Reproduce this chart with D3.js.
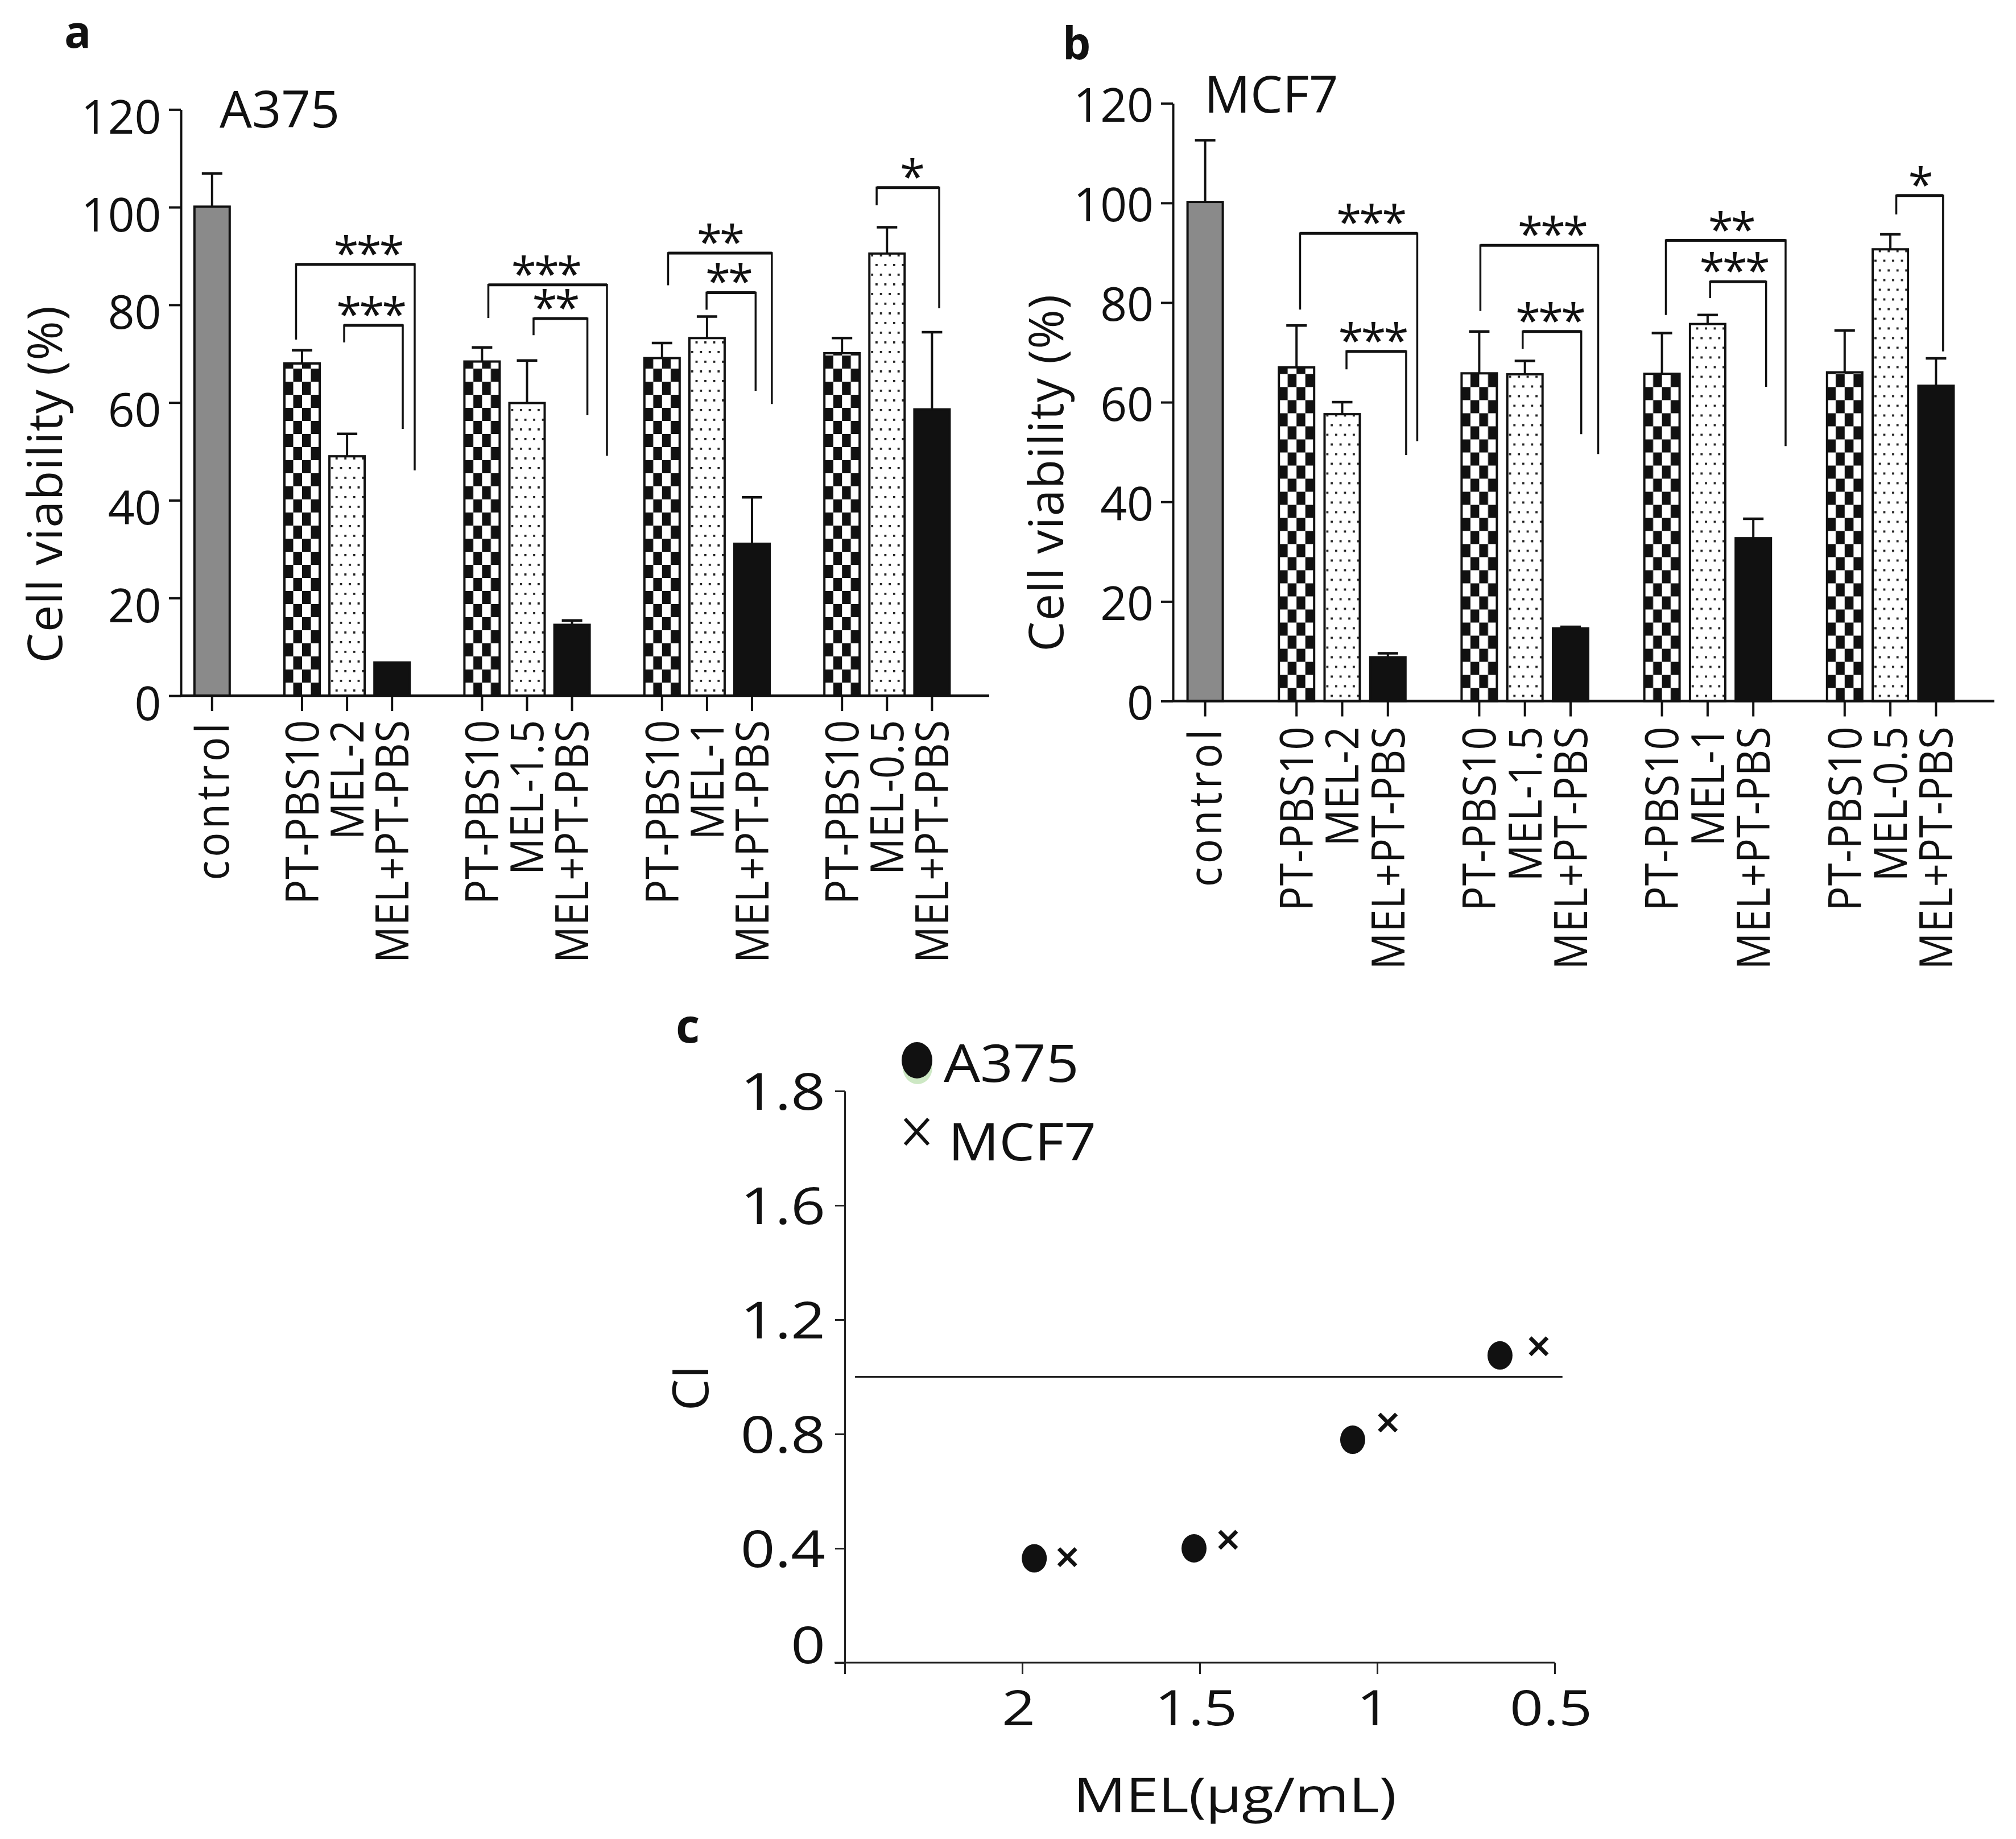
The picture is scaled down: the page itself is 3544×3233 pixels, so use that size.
<!DOCTYPE html>
<html><head><meta charset="utf-8">
<script src="https://cdn.jsdelivr.net/npm/d3@7"></script>
<style>
body{margin:0;background:#fff}
svg{display:block}
text{font-family:"Open Sans","Noto Sans","DejaVu Sans",sans-serif;fill:#111}
</style>
</head><body>
<svg id="chart" width="3544" height="3233"></svg>
<script>
// ---------------- DATA ----------------
const groupLabels = [
  ["control"],
  ["PT-PBS10","MEL-2","MEL+PT-PBS"],
  ["PT-PBS10","MEL-1.5","MEL+PT-PBS"],
  ["PT-PBS10","MEL-1","MEL+PT-PBS"],
  ["PT-PBS10","MEL-0.5","MEL+PT-PBS"]
];
const yTicksViability = [0,20,40,60,80,100,120];

const a375Values = [100.1, 68.0,49.0,6.8, 68.4,59.9,14.5, 69.1,73.2,31.1, 70.1,90.5,58.6];
const a375Errors = [6.8, 2.7,4.6,0, 2.9,8.7,0.9, 3.1,4.4,9.5, 3.1,5.4,15.8];
const mcf7Values = [100.2, 67.0,57.6,8.8, 65.8,65.6,14.6, 65.7,75.7,32.7, 66.0,90.7,63.3];
const mcf7Errors = [12.4, 8.4,2.4,0.8, 8.4,2.7,0.3, 8.2,1.8,3.9, 8.4,3.0,5.5];

// significance brackets: [left slot, right slot, top value, left end value, right end value, label, label slot]
const a375Brackets = [
  [1.867, 4.503, 88.3, 72.9, 46.1, "***", 3.46],
  [2.936, 4.238, 75.8, 72.3, 54.6, "***", 3.52],
  [6.140, 8.776, 84.1, 77.3, 49.1, "***", 7.41],
  [7.145, 8.341, 77.2, 73.8, 57.4, "**", 7.62],
  [10.135, 12.44, 90.6, 84.0, 59.7, "**", 11.28],
  [10.99, 12.08, 82.5, 79.0, 62.4, "**", 11.47],
  [14.77, 16.16, 104.0, 100.4, 79.3, "*", 15.54]
];
const mcf7Brackets = [
  [2.078, 4.643, 93.9, 78.6, 52.2, "***", 3.62],
  [3.094, 4.40, 70.2, 66.6, 49.4, "***", 3.66],
  [6.025, 8.604, 91.5, 78.3, 49.6, "***", 7.59],
  [6.951, 8.233, 74.2, 70.7, 53.6, "***", 7.54],
  [10.086, 12.707, 92.5, 77.5, 51.2, "**", 11.51],
  [11.055, 12.28, 84.2, 80.9, 63.1, "***", 11.57],
  [15.13, 16.155, 101.5, 97.7, 70.2, "*", 15.64]
];

// panel c
const doseTicks = [2.5, 2, 1.5, 1, 0.5];
const doseTickLabels = ["", "2", "1.5", "1", "0.5"];
const ciTickValues = [0, 0.4, 0.8, 1.2, 1.6, 2.0];
const ciTickLabels = ["0", "0.4", "0.8", "1.2", "1.6", "1.8"];
const a375Dose = [1.966, 1.516, 1.069, 0.654];
const a375CI   = [0.365, 0.400, 0.780, 1.075];
const mcf7Dose = [1.873, 1.420, 0.970, 0.545];
const mcf7CI   = [0.369, 0.430, 0.840, 1.107];
const ciRefLine = {ci: 1.0, from: 2.471, to: 0.478};

// ---------------- DRAW ----------------
const svg = d3.select("#chart");
const defs = svg.append("defs");
const INK = "#111";

const chk = defs.append("pattern").attr("id","checker").attr("patternUnits","userSpaceOnUse")
  .attr("width",31).attr("height",46);
chk.append("rect").attr("width",31).attr("height",46).attr("fill","#fff");
chk.append("rect").attr("x",0).attr("y",0).attr("width",15.5).attr("height",23).attr("fill",INK);
chk.append("rect").attr("x",15.5).attr("y",23).attr("width",15.5).attr("height",23).attr("fill",INK);

const dts = defs.append("pattern").attr("id","dots").attr("patternUnits","userSpaceOnUse")
  .attr("width",15.5).attr("height",34);
dts.append("rect").attr("width",15.5).attr("height",34).attr("fill","#fff");
dts.append("rect").attr("x",3).attr("y",6).attr("width",3.8).attr("height",3.8).attr("fill","#222");
dts.append("rect").attr("x",10.7).attr("y",23).attr("width",3.8).attr("height",3.8).attr("fill","#222");

const fills = {gray:"#8a8a8a", checker:"url(#checker)", dots:"url(#dots)", solid:INK};
const groupFill = ["checker","dots","solid"];

function barPanel(cfg, values, errors, brackets) {
  const g = svg.append("g");
  const keys = [], bars = [];
  groupLabels.forEach((grp, gi) => {
    if (gi > 0) keys.push("gap" + gi);
    grp.forEach((lab, li) => {
      const k = gi + "-" + li;
      keys.push(k);
      bars.push({key: k, label: lab, type: gi === 0 ? "gray" : groupFill[li]});
    });
  });
  bars.forEach((b, i) => { b.value = values[i]; b.err = errors[i]; });

  const pad = 1 - cfg.barW / cfg.slot;
  const x = d3.scaleBand().domain(keys)
    .range([cfg.c0 - cfg.slot/2, cfg.c0 + (keys.length - 0.5) * cfg.slot])
    .paddingInner(pad).paddingOuter(pad/2);
  const xi = d3.scaleLinear().domain([0, keys.length - 1])
    .range([cfg.c0, cfg.c0 + (keys.length - 1) * cfg.slot]);
  const y = d3.scaleLinear().domain([0, 120]).range([cfg.y0, cfg.y120]);

  // bars
  const bg = g.selectAll("g.bar").data(bars).join("g").attr("class","bar")
    .attr("transform", d => `translate(${x(d.key)},${cfg.y0})`);
  bg.append("rect")
    .attr("x", 0).attr("y", d => y(d.value) - cfg.y0)
    .attr("width", x.bandwidth()).attr("height", d => cfg.y0 - y(d.value))
    .attr("fill", d => fills[d.type]).attr("stroke", INK).attr("stroke-width", 4);

  // error bars
  const eb = g.selectAll("g.err").data(bars.filter(d => d.err > 0)).join("g").attr("class","err");
  eb.append("line")
    .attr("x1", d => x(d.key) + x.bandwidth()/2).attr("x2", d => x(d.key) + x.bandwidth()/2)
    .attr("y1", d => y(d.value)).attr("y2", d => y(d.value + d.err))
    .attr("stroke", INK).attr("stroke-width", 4);
  eb.append("line")
    .attr("x1", d => x(d.key) + x.bandwidth()/2 - 18).attr("x2", d => x(d.key) + x.bandwidth()/2 + 18)
    .attr("y1", d => y(d.value + d.err)).attr("y2", d => y(d.value + d.err))
    .attr("stroke", INK).attr("stroke-width", 4.5);

  // brackets
  const br = g.selectAll("g.brk").data(brackets).join("g").attr("class","brk");
  br.append("path")
    .attr("d", d => `M${xi(d[0])},${y(d[3])}V${y(d[2])}H${xi(d[1])}V${y(d[4])}`)
    .attr("fill","none").attr("stroke", INK).attr("stroke-width", 3.5);
  br.append("line")
    .attr("x1", d => xi(d[0])).attr("x2", d => xi(d[1]))
    .attr("y1", d => y(d[2])).attr("y2", d => y(d[2]))
    .attr("stroke", INK).attr("stroke-width", 5);
  br.append("text")
    .attr("x", d => xi(d[6])).attr("y", d => y(d[2]) + 9)
    .attr("text-anchor","middle").attr("font-size", 80).attr("letter-spacing", -4)
    .text(d => d[5]);

  // y axis
  const ya = g.append("g").attr("transform", `translate(${cfg.axisX},0)`)
    .call(d3.axisLeft(y).tickValues(yTicksViability).tickSize(21).tickSizeOuter(0).tickPadding(cfg.tickPad));
  ya.select(".domain").attr("stroke", INK).attr("stroke-width", 4);
  ya.selectAll(".tick line").attr("stroke", INK).attr("stroke-width", 4);
  ya.selectAll(".tick text").attr("font-size", 82).attr("font-family", null)
    .attr("dy", null).attr("y", cfg.tickDy).attr("fill", INK);

  // x axis
  g.append("line").attr("x1", cfg.axisX - 2).attr("x2", cfg.xEnd)
    .attr("y1", cfg.y0).attr("y2", cfg.y0).attr("stroke", INK).attr("stroke-width", 4.5);
  const xa = g.append("g").attr("transform", `translate(0,${cfg.y0})`)
    .call(d3.axisBottom(x).tickValues(bars.map(b => b.key)).tickSize(27).tickSizeOuter(0)
      .tickFormat(k => bars.find(b => b.key === k).label));
  xa.select(".domain").remove();
  xa.selectAll(".tick line").attr("stroke", INK).attr("stroke-width", 4);
  xa.selectAll(".tick text").attr("font-size", 80).attr("font-family", null).attr("fill", INK)
    .attr("transform", "rotate(-90) scale(0.9,1)")
    .attr("x", -cfg.labelGap / 0.9).attr("y", 0).attr("dy", "0.36em")
    .attr("text-anchor", "end")
    .attr("letter-spacing", k => k === "0-0" ? 7 : 1);

  // titles
  g.append("text").attr("transform", `translate(${cfg.yTitleX},${cfg.yTitleY}) rotate(-90)`)
    .attr("text-anchor","middle").attr("font-size", 84).attr("letter-spacing", 1.5).text("Cell viability (%)");
  g.append("text").attr("x", cfg.titleX).attr("y", cfg.titleY).attr("font-size", 90).text(cfg.title);
  g.append("text").attr("x", cfg.letterX).attr("y", cfg.letterY).attr("font-size", 78)
    .attr("font-weight", 700).text(cfg.letter);
}

barPanel({axisX:318, y0:1223, y120:192.4, c0:372.8, slot:79.1, barW:62, xEnd:1739,
  tickPad:13.5, tickDy:42, labelGap:42, title:"A375", titleX:386, titleY:224,
  yTitleX:109, yTitleY:851, letter:"a", letterX:113, letterY:84}, a375Values, a375Errors, a375Brackets);

barPanel({axisX:2062, y0:1232.5, y120:181.7, c0:2118.6, slot:80.3, barW:62, xEnd:3506,
  tickPad:13, tickDy:32, labelGap:44, title:"MCF7", titleX:2117, titleY:198,
  yTitleX:1869, yTitleY:831, letter:"b", letterX:1868, letterY:104}, mcf7Values, mcf7Errors, mcf7Brackets);

// ---------------- PANEL C ----------------
(function(){
  const g = svg.append("g");
  const GREY = "#222";
  const x = d3.scaleLinear().domain([2.5, 0.5]).range([1485, 2733]);
  const y = d3.scaleLinear().domain([0, 2]).range([2923, 1918]);

  // reference line
  g.append("line").attr("x1", x(ciRefLine.from)).attr("x2", x(ciRefLine.to))
    .attr("y1", y(ciRefLine.ci)).attr("y2", y(ciRefLine.ci)).attr("stroke", GREY).attr("stroke-width", 3);

  // axes
  const ya = g.append("g").attr("transform", `translate(${x(2.5)},0)`)
    .call(d3.axisLeft(y).tickValues(ciTickValues).tickSize(17).tickSizeOuter(0).tickPadding(17)
      .tickFormat((d, i) => ciTickLabels[i]));
  ya.select(".domain").attr("stroke", GREY).attr("stroke-width", 3);
  ya.selectAll(".tick line").attr("stroke", GREY).attr("stroke-width", 3);
  ya.selectAll(".tick text").attr("font-size", 90).attr("font-family", null).attr("fill", INK)
    .attr("x", null).attr("dy", null)
    .attr("transform", d => `translate(-34,${d === 0 ? 0 : 32}) scale(1.18,1)`);

  g.append("line").attr("x1", x(2.5) - 18).attr("x2", x(0.5)).attr("y1", y(0)).attr("y2", y(0))
    .attr("stroke", GREY).attr("stroke-width", 3);
  const xa = g.append("g").attr("transform", `translate(0,${y(0)})`)
    .call(d3.axisBottom(x).tickValues(doseTicks).tickSize(20).tickSizeOuter(0)
      .tickFormat((d, i) => doseTickLabels[i]));
  xa.select(".domain").remove();
  xa.selectAll(".tick line").attr("stroke", GREY).attr("stroke-width", 3);
  xa.selectAll(".tick text").attr("font-size", 86).attr("font-family", null).attr("fill", INK)
    .attr("y", null).attr("dy", null)
    .attr("transform", "translate(-7,110) scale(1.2,1)");

  // points
  const a375 = a375Dose.map((d, i) => ({dose: d, ci: a375CI[i]}));
  const mcf7 = mcf7Dose.map((d, i) => ({dose: d, ci: mcf7CI[i]}));
  g.selectAll("ellipse.a375").data(a375).join("ellipse").attr("class","a375")
    .attr("cx", d => x(d.dose)).attr("cy", d => y(d.ci)).attr("rx", 22).attr("ry", 25).attr("fill", INK);
  const cs = 15;
  g.selectAll("path.mcf7").data(mcf7).join("path").attr("class","mcf7")
    .attr("d", d => { const cx = x(d.dose), cy = y(d.ci);
      return `M${cx-cs},${cy-cs}L${cx+cs},${cy+cs}M${cx-cs},${cy+cs}L${cx+cs},${cy-cs}`; })
    .attr("stroke", INK).attr("stroke-width", 7).attr("fill","none");

  // legend
  g.append("ellipse").attr("cx", 1613).attr("cy", 1877).attr("rx", 26).attr("ry", 29).attr("fill", "#cde8c4");
  g.append("ellipse").attr("cx", 1612).attr("cy", 1864).attr("rx", 27).attr("ry", 32).attr("fill", INK);
  g.append("path").attr("d", "M1591,1967L1632,2012M1591,2012L1632,1967").attr("stroke", INK)
    .attr("stroke-width", 6).attr("fill","none");
  g.append("text").attr("transform", "translate(1659,1902) scale(1.1,1)").attr("font-size", 92).text("A375");
  g.append("text").attr("transform", "translate(1667,2040) scale(1.08,1)").attr("font-size", 92).text("MCF7");

  // axis titles
  g.append("text").attr("transform", "translate(2171,3186) scale(1.22,1)").attr("text-anchor","middle")
    .attr("font-size", 84).text("MEL(μg/mL)");
  g.append("text").attr("transform", "translate(1245,2440) rotate(-90)").attr("text-anchor","middle")
    .attr("font-size", 88).text("CI");
  g.append("text").attr("x", 1188).attr("y", 1833).attr("font-size", 82).attr("font-weight", 700).text("c");
})();
</script>
</body></html>
